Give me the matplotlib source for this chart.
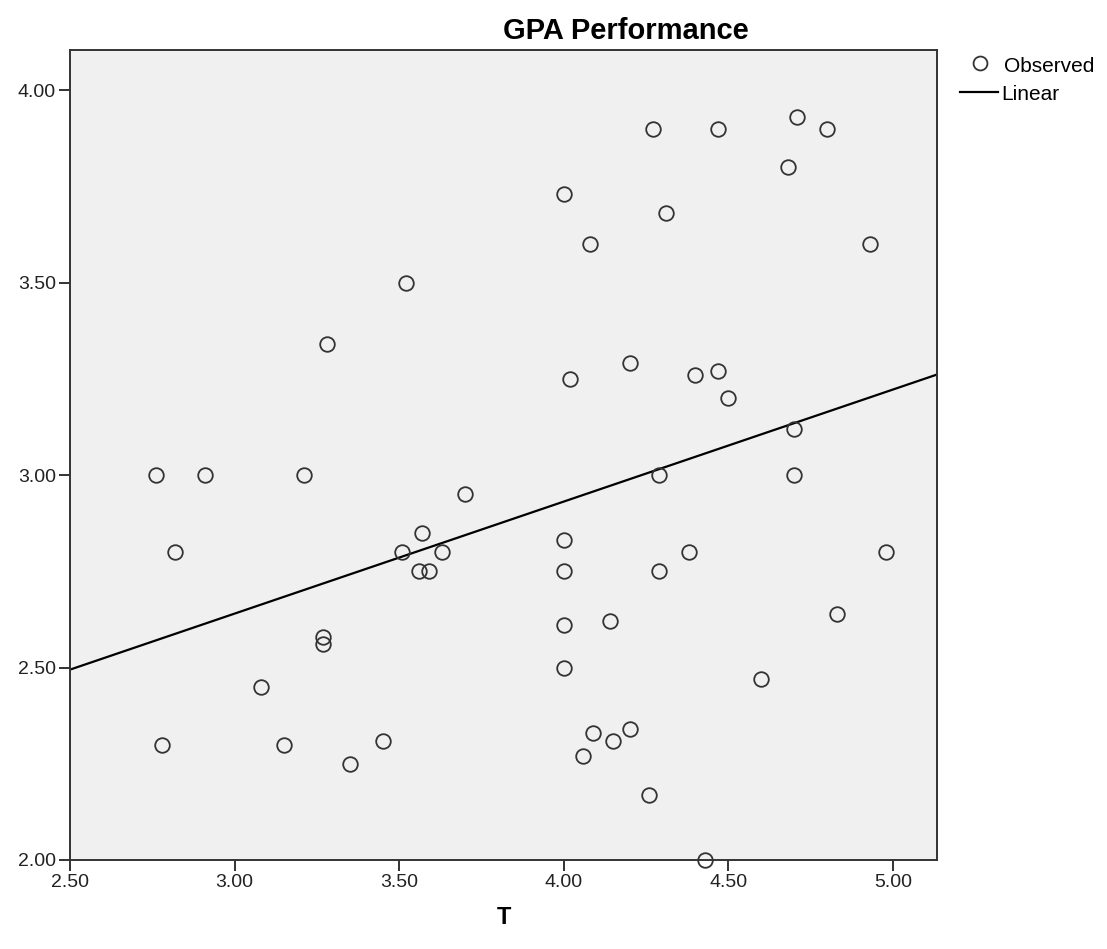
import numpy as np
import matplotlib
matplotlib.use("Agg")
import matplotlib.pyplot as plt
from matplotlib.lines import Line2D

plt.rcParams['font.family'] = ['Liberation Sans', 'DejaVu Sans']

# observed points (T, GPA)
t_vals = [3.52, 3.28,
          4.27, 4.47, 4.71, 4.80, 4.68, 4.00, 4.31, 4.08, 4.93, 4.02, 4.20,
          4.40, 4.47, 4.50, 4.70,
          2.76, 2.91, 3.21, 3.70, 2.82, 3.57, 3.51, 3.63, 3.56, 3.59, 3.27,
          3.27, 3.08, 2.78, 3.15, 3.45, 3.35,
          4.29, 4.70, 4.00, 4.38, 4.98, 4.00, 4.29, 4.83, 4.00, 4.14, 4.00,
          4.60, 4.09, 4.15, 4.20, 4.06, 4.26, 4.43]
gpa_vals = [3.50, 3.34,
            3.90, 3.90, 3.93, 3.90, 3.80, 3.73, 3.68, 3.60, 3.60, 3.25, 3.29,
            3.26, 3.27, 3.20, 3.12,
            3.00, 3.00, 3.00, 2.95, 2.80, 2.85, 2.80, 2.80, 2.75, 2.75, 2.58,
            2.56, 2.45, 2.30, 2.30, 2.31, 2.25,
            3.00, 3.00, 2.83, 2.80, 2.80, 2.75, 2.75, 2.64, 2.61, 2.62, 2.50,
            2.47, 2.33, 2.31, 2.34, 2.27, 2.17, 2.00]

# linear fit as shown
intercept = 1.767
slope = 0.291

x_ticks = [2.5, 3.0, 3.5, 4.0, 4.5, 5.0]
y_ticks = [2.0, 2.5, 3.0, 3.5, 4.0]
xlim = (2.5, 5.134)
ylim = (2.0, 4.104)

W, H = 1107, 949
fig = plt.figure(figsize=(W/100, H/100), dpi=100)
ax = fig.add_axes([70/W, 89/H, 867/W, 810/H])
ax.set_facecolor('#f0f0f0')

ax.plot(t_vals, gpa_vals, 'o', ms=10.5, mfc='none', mec='#333333', mew=1.3,
        clip_on=False, zorder=3)
xs = np.array(xlim)
ax.plot(xs, intercept + slope*xs, '-', color='black', lw=1.6, zorder=2)

ax.set_xlim(*xlim)
ax.set_ylim(*ylim)
ax.set_xticks(x_ticks)
ax.set_xticklabels([f"{v:.2f}" for v in x_ticks])
ax.set_yticks(y_ticks)
ax.set_yticklabels([f"{v:.2f}" for v in y_ticks])
ax.tick_params(direction='out', length=8, width=1.3, labelsize=14,
               pad=2, colors='#222222', top=False, right=False)
for s in ax.spines.values():
    s.set_linewidth(1.4)
    s.set_color('#333333')

ax.set_xlabel('T', fontsize=17, fontweight='bold', labelpad=11)
fig.text(626/W, 1 - 31/H, 'GPA Performance', ha='center', va='center',
         fontsize=21, fontweight='bold')

# legend, drawn by hand in figure pixels
fig.add_artist(Line2D([980/W], [1 - 63/H], ls='none', marker='o', ms=10,
                      mfc='none', mec='#333333', mew=1.3))
fig.add_artist(Line2D([960/W, 998/W], [1 - 92/H, 1 - 92/H], color='black',
                      lw=1.6))
fig.text(1004/W, 1 - 66/H, 'Observed', ha='left', va='center', fontsize=15)
fig.text(1001/W, 1 - 94/H, 'Linear', ha='left', va='center', fontsize=15)

fig.savefig('out.png', dpi=100)
